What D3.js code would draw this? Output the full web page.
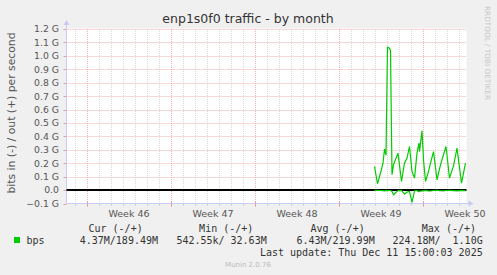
<!DOCTYPE html>
<html>
<head>
<meta charset="utf-8">
<script src="https://cdn.jsdelivr.net/npm/d3@7"></script>
<style>
  body { margin: 0; background: #f0f0f0; }
  svg { display: block; }
</style>
</head>
<body>
<svg id="drawing_region" width="497" height="275"></svg>
<script>
// samples (2h-ish averages), out (+) and in (-) in bits per second
const times = [
  "2025-12-03 23:00", "2025-12-04 05:00", "2025-12-04 11:00", "2025-12-04 16:00",
  "2025-12-04 19:00", "2025-12-04 22:00", "2025-12-05 01:00", "2025-12-05 05:00",
  "2025-12-05 07:00", "2025-12-05 10:00", "2025-12-05 13:00", "2025-12-05 22:00",
  "2025-12-06 05:00", "2025-12-06 11:00", "2025-12-06 16:00", "2025-12-06 21:00",
  "2025-12-07 02:00", "2025-12-07 07:00", "2025-12-07 12:00", "2025-12-07 16:00",
  "2025-12-07 17:00", "2025-12-07 22:00", "2025-12-08 01:00", "2025-12-08 05:00",
  "2025-12-08 11:00", "2025-12-08 15:00", "2025-12-08 21:00", "2025-12-09 04:00",
  "2025-12-09 11:00", "2025-12-09 17:00", "2025-12-09 22:00", "2025-12-10 05:00",
  "2025-12-10 13:00", "2025-12-10 20:00", "2025-12-11 05:00", "2025-12-11 13:00"
];
const outG = [
  0.176, 0.047, 0.127, 0.200, 0.305, 0.260, 1.065, 1.057, 1.040, 0.114, 0.190, 0.275,
  0.064, 0.200, 0.238, 0.325, 0.139, 0.089, 0.275, 0.350, 0.287, 0.441, 0.226, 0.064,
  0.139, 0.200, 0.287, 0.077, 0.188, 0.263, 0.325, 0.089, 0.180, 0.313, 0.052, 0.200
];
const inG = [
  -0.002, -0.002, -0.003, -0.004, -0.006, -0.003, -0.004, -0.003, -0.003, -0.010, -0.035, -0.004,
  -0.003, -0.030, -0.015, -0.010, -0.092, -0.005, -0.004, -0.012, -0.008, -0.006, -0.004, -0.002,
  -0.006, -0.007, -0.003, -0.002, -0.005, -0.006, -0.003, -0.002, -0.004, -0.006, -0.002, -0.004
];
const yTicks = [-0.1, 0, 0.1, 0.2, 0.3, 0.4, 0.5, 0.6, 0.7, 0.8, 0.9, 1.0, 1.1, 1.2];
const legendHeads = ["Cur (-/+)", "Min (-/+)", "Avg (-/+)", "Max (-/+)"];
const legendVals = ["4.37M/189.49M", "542.55k/ 32.63M", "6.43M/219.99M", "224.18M/  1.10G"];

const svg = d3.select('#drawing_region');
const parse = d3.timeParse("%Y-%m-%d %H:%M");
const endT = new Date(2025, 11, 11, 15, 0);
const startT = new Date(endT - 400 / 12 * 86400000);

const L = 66.5, R = 466.5, T = 29, B = 203.5;
const x = d3.scaleTime().domain([startT, endT]).range([L, R]);
const y = d3.scaleLinear().domain([-0.1, 1.2]).range([B, T]);
const px = v => Math.round(v) + 0.5;

// background
svg.append('rect').attr('width', 497).attr('height', 275).attr('fill', '#f0f0f0');
svg.append('rect').attr('x', L).attr('y', T - 0.5).attr('width', R - L).attr('height', B - T + 0.5)
    .attr('fill', '#ffffff');

// grid
const days = d3.timeDay.range(startT, endT).filter(d => d.getDay() !== 1);
const weeks = d3.timeMonday.range(startT, endT);
const red = '#f0b2b2';
svg.append('g').selectAll('line').data(days).join('line')
    .attr('x1', d => px(x(d))).attr('x2', d => px(x(d)))
    .attr('y1', T).attr('y2', B)
    .attr('stroke', '#d8d8d8').attr('stroke-dasharray', '1,1');
svg.append('g').selectAll('line').data(yTicks.slice(1)).join('line')
    .attr('x1', L).attr('x2', R)
    .attr('y1', d => px(y(d))).attr('y2', d => px(y(d)))
    .attr('stroke', red).attr('stroke-dasharray', '1,1');
svg.append('g').selectAll('line').data(weeks).join('line')
    .attr('x1', d => px(x(d))).attr('x2', d => px(x(d)))
    .attr('y1', T).attr('y2', B)
    .attr('stroke', red).attr('stroke-dasharray', '1,1');

// axis ticks
svg.append('g').selectAll('line').data(days).join('line')
    .attr('x1', d => px(x(d))).attr('x2', d => px(x(d)))
    .attr('y1', B).attr('y2', B + 2).attr('stroke', '#c4c4c4');
svg.append('g').selectAll('line').data(weeks).join('line')
    .attr('x1', d => px(x(d))).attr('x2', d => px(x(d)))
    .attr('y1', B - 2).attr('y2', B + 3).attr('stroke', '#e89090');
svg.append('g').selectAll('line').data(yTicks).join('line')
    .attr('x1', L - 3).attr('x2', L)
    .attr('y1', d => px(y(d))).attr('y2', d => px(y(d))).attr('stroke', '#e0a0a0');

// axes + arrows
const axisCol = '#c8ccf4';
svg.append('line').attr('x1', L).attr('x2', L).attr('y1', B).attr('y2', T - 5).attr('stroke', axisCol);
svg.append('line').attr('x1', L).attr('x2', R + 3).attr('y1', B).attr('y2', B).attr('stroke', axisCol);
svg.append('path').attr('d', `M${L - 3},${T - 4} L${L + 3},${T - 4} L${L},${T - 9} Z`).attr('fill', axisCol);
svg.append('path').attr('d', `M${R + 2},${B - 3} L${R + 2},${B + 3} L${R + 7},${B} Z`).attr('fill', axisCol);

// tick labels
svg.append('g').selectAll('text').data(yTicks).join('text')
    .attr('x', 59).attr('y', d => y(d) + 3.4)
    .attr('text-anchor', 'end')
    .attr('font-family', 'DejaVu Sans').attr('font-size', 9.3).attr('fill', '#555')
    .text(d => d === 0 ? "0.0" : d3.format(".1f")(d) + " G");
svg.append('g').selectAll('text').data(weeks).join('text')
    .attr('x', d => x(d3.timeHour.offset(d, 84)))
    .attr('y', 216.5)
    .attr('text-anchor', 'middle')
    .attr('font-family', 'DejaVu Sans').attr('font-size', 9.5).attr('fill', '#555')
    .text(d => "Week " + d3.timeFormat("%V")(d3.timeHour.offset(d, 84)));

// zero line
svg.append('line').attr('x1', L).attr('x2', R).attr('y1', y(0)).attr('y2', y(0))
    .attr('stroke', '#000').attr('stroke-width', 2);

// series
const line = d3.line().x((d, i) => x(parse(times[i]))).y(d => y(d));
svg.append('path').datum(inG).attr('d', line)
    .attr('fill', 'none').attr('stroke', '#00cc00').attr('stroke-width', 1.2);
svg.append('path').datum(outG).attr('d', line)
    .attr('fill', 'none').attr('stroke', '#00cc00').attr('stroke-width', 1.2);

// title & labels
svg.append('text').attr('x', 248).attr('y', 23).attr('text-anchor', 'middle')
    .attr('font-family', 'DejaVu Sans').attr('font-size', 12.5).attr('fill', '#333')
    .text("enp1s0f0 traffic - by month");
svg.append('text').attr('transform', 'translate(15,113) rotate(-90)').attr('text-anchor', 'middle')
    .attr('font-family', 'DejaVu Sans').attr('font-size', 10.8).attr('fill', '#555')
    .text("bits in (-) / out (+) per second");
svg.append('text').attr('transform', 'translate(485,53) rotate(90)').attr('text-anchor', 'middle')
    .attr('font-family', 'DejaVu Sans').attr('font-size', 7.3).attr('fill', '#c8c8c8')
    .text("RRDTOOL / TOBI OETIKER");

// legend
const mono = 'DejaVu Sans Mono';
const headX = [142.7, 253.3, 364.7, 476];
const valX = [158, 266.7, 374.7, 482.7];
svg.append('rect').attr('x', 14).attr('y', 237).attr('width', 6).attr('height', 6).attr('fill', '#00cc00');
svg.append('text').attr('x', 26.5).attr('y', 243.5)
    .attr('font-family', mono).attr('font-size', 10).attr('fill', '#333').text("bps");
svg.append('g').selectAll('text').data(legendHeads).join('text')
    .attr('x', (d, i) => headX[i]).attr('y', 231.5).attr('text-anchor', 'end')
    .attr('font-family', mono).attr('font-size', 10).attr('fill', '#333')
    .style('white-space', 'pre').text(d => d);
svg.append('g').selectAll('text').data(legendVals).join('text')
    .attr('x', (d, i) => valX[i]).attr('y', 243.5).attr('text-anchor', 'end')
    .attr('font-family', mono).attr('font-size', 10).attr('fill', '#333')
    .style('white-space', 'pre').text(d => d);
svg.append('text').attr('x', 482.7).attr('y', 255.5).attr('text-anchor', 'end')
    .attr('font-family', mono).attr('font-size', 10).attr('fill', '#333')
    .text("Last update: Thu Dec 11 15:00:03 2025");
svg.append('text').attr('x', 248).attr('y', 266.5).attr('text-anchor', 'middle')
    .attr('font-family', 'DejaVu Sans').attr('font-size', 7).attr('fill', '#bbb')
    .text("Munin 2.0.76");
</script>
</body>
</html>
